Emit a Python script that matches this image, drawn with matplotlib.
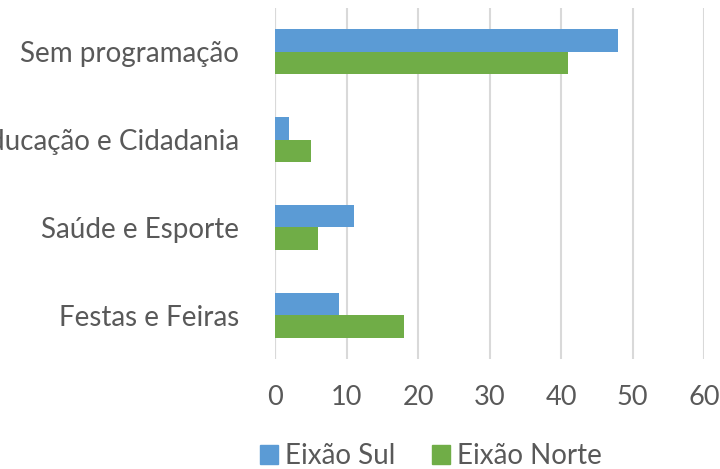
import matplotlib.pyplot as plt
import numpy as np
from matplotlib.patches import Patch

plt.rcParams['font.family'] = ['Lato', 'DejaVu Sans']

# Dados
categorias = ['Festas e Feiras', 'Saúde e Esporte', 'Educação e Cidadania', 'Sem programação']
eixao_sul = [9, 11, 2, 48]
eixao_norte = [18, 6, 5, 41]
xticks = [0, 10, 20, 30, 40, 50, 60]

cor_sul = '#5B9BD5'
cor_norte = '#70AD47'
cor_texto = '#595959'

fig = plt.figure(figsize=(7.2, 4.69), dpi=100)
ax = fig.add_axes([275 / 720, 1 - 359 / 469, (704 - 275) / 720, (359 - 8) / 469])

y = np.arange(len(categorias))
h = 0.256
ax.barh(y + h / 2, eixao_sul, height=h, color=cor_sul, zorder=3)
ax.barh(y - h / 2, eixao_norte, height=h, color=cor_norte, zorder=3)

ax.set_xlim(0, 60)
ax.set_ylim(-0.5, 3.5)
ax.set_xticks(xticks)
ax.set_yticks(y)
ax.set_yticklabels(categorias)

ax.grid(axis='x', color='#d9d9d9', linewidth=1.5, zorder=0)
ax.axvline(0, color='#d9d9d9', linewidth=1.5, zorder=1)
for s in ax.spines.values():
    s.set_visible(False)
ax.tick_params(axis='both', length=0, colors=cor_texto)
ax.tick_params(axis='y', pad=26, labelsize=20)
ax.tick_params(axis='x', pad=19, labelsize=19.5)

handles = [Patch(color=cor_sul, label='Eixão Sul'), Patch(color=cor_norte, label='Eixão Norte')]
fig.legend(handles=handles, loc='center', bbox_to_anchor=(431 / 720, 1 - 456 / 469), ncol=2,
           frameon=False, fontsize=20, labelcolor=cor_texto, handlelength=0.65, handleheight=0.65,
           handletextpad=0.25, columnspacing=1.3)

fig.savefig('out.png', dpi=100)
